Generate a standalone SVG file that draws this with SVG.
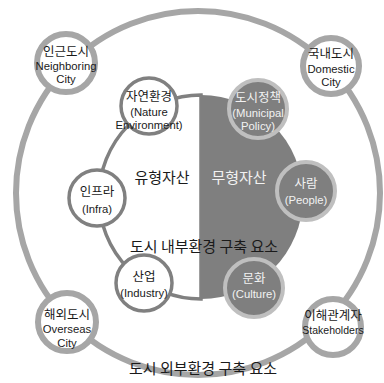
<svg xmlns="http://www.w3.org/2000/svg" width="384" height="383" viewBox="0 0 384 383">
<style>
.ko{font-family:"Noto Sans CJK KR","Noto Sans",sans-serif;text-anchor:middle}
.en{font-family:"Liberation Sans","Noto Sans",sans-serif;text-anchor:middle;font-size:11.3px}
.k{font-size:12.5px}
.dk{fill:#1a1a1a}
.lt{fill:#f2f2f2}
.big{font-size:15px}
.outer{fill:#fff;stroke:#a6a6a6;stroke-width:6}
.inw{fill:#fff;stroke:#808080;stroke-width:3.5}
.ind{fill:#7f7f7f;stroke:#bfbfbf;stroke-width:4}
</style>
<rect width="384" height="383" fill="#fff"/>
<g id="connectors">
<circle cx="198" cy="193" r="182" fill="none" stroke="#a6a6a6" stroke-width="6"/>
<path d="M201,95 A102,102 0 0 0 201,299 Z" fill="#fff" stroke="#808080" stroke-width="3.5"/>
<path d="M201,95 A102,102 0 0 1 201,299 Z" fill="#7f7f7f"/>
</g>
<g id="labels">
<text class="ko big dk" x="162" y="183">유형자산</text>
<text class="ko big lt" x="239" y="183">무형자산</text>
<text class="ko big dk" x="204" y="252">도시 내부환경 구축 요소</text>
<text class="ko big dk" x="203" y="374">도시 외부환경 구축 요소</text>
</g>
<g id="neighboring">
<circle class="outer" cx="66" cy="63" r="29"/>
<text class="ko k dk" x="66" y="56">인근도시</text>
<text class="en dk" x="66" y="70">Neighboring</text>
<text class="en dk" x="66" y="83">City</text>
</g>
<g id="domestic">
<circle class="outer" cx="331" cy="66" r="28"/>
<text class="ko k dk" x="331" y="58">국내도시</text>
<text class="en dk" x="331" y="73">Domestic</text>
<text class="en dk" x="331" y="86">City</text>
</g>
<g id="overseas">
<circle class="outer" cx="67" cy="322" r="29"/>
<text class="ko k dk" x="67" y="319">해외도시</text>
<text class="en dk" x="67" y="333">Overseas</text>
<text class="en dk" x="67" y="347">City</text>
</g>
<g id="stakeholders">
<circle class="outer" cx="333" cy="327" r="28"/>
<text class="ko k dk" x="333" y="320">이해관계자</text>
<text class="en dk" x="333" y="334" style="font-size:10.5px">Stakeholders</text>
</g>
<g id="nature">
<circle class="inw" cx="149" cy="106" r="28"/>
<text class="ko k dk" x="149" y="101">자연환경</text>
<text class="en dk" x="149" y="116">(Nature</text>
<text class="en dk" x="149" y="129">Environment)</text>
</g>
<g id="infra">
<circle class="inw" cx="97" cy="198" r="28"/>
<text class="ko k dk" x="97" y="196">인프라</text>
<text class="en dk" x="97" y="213">(Infra)</text>
</g>
<g id="industry">
<circle class="inw" cx="144" cy="283" r="28"/>
<text class="ko k dk" x="144" y="281">산업</text>
<text class="en dk" x="144" y="297">(Industry)</text>
</g>
<g id="policy">
<circle class="ind" cx="258" cy="109" r="29"/>
<text class="ko k lt" x="258" y="102">도시정책</text>
<text class="en lt" x="258" y="117">(Municipal</text>
<text class="en lt" x="258" y="130">Policy)</text>
</g>
<g id="people">
<circle class="ind" cx="306" cy="191" r="29"/>
<text class="ko k lt" x="306" y="188">사람</text>
<text class="en lt" x="306" y="204">(People)</text>
</g>
<g id="culture">
<circle class="ind" cx="254" cy="288" r="29"/>
<text class="ko k lt" x="254" y="283">문화</text>
<text class="en lt" x="254" y="298">(Culture)</text>
</g>
</svg>
